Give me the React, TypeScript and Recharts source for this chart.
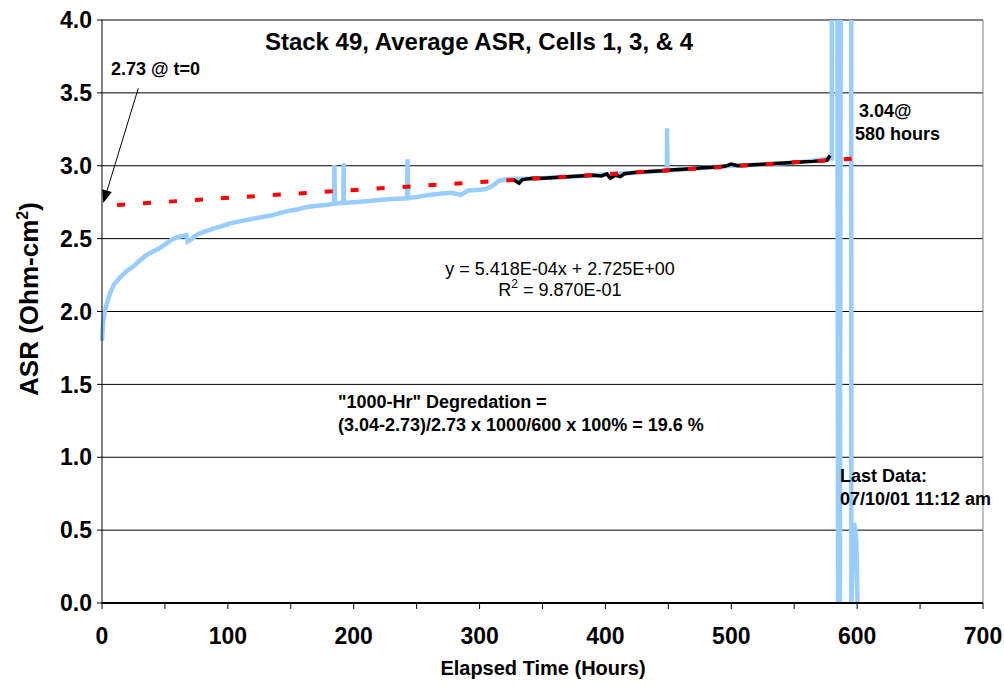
import React from 'react';
import { LineChart, Line, XAxis, YAxis, CartesianGrid, ReferenceLine } from 'recharts';

const blueHours = [
  0, 0.5, 1, 2, 4, 7, 10, 15, 20, 25, 30, 35, 40, 45, 50, 55, 60, 65, 67, 68, 70,
  76, 82, 89, 95, 102, 110, 116, 122, 129, 135, 141, 148, 155, 162, 170, 178,
  184.5, 184.7, 185, 191.8, 192, 192.3, 200, 210, 220, 230, 242.5, 242.8, 243.2,
  250, 260, 270, 278, 285, 291, 300, 305, 310, 315, 320, 326, 340, 360, 380, 400,
  420, 448.8, 449, 449.3, 470, 500, 530, 560, 578.5, 579.9, 579.9, 584.2, 584.9,
  585.6, 586.3, 587, 595.3, 595.4, 597.5, 598.5, 599.3, 600, 600.3,
];
const blueAsr = [
  1.8, 1.88, 1.93, 1.99, 2.06, 2.14, 2.19, 2.24, 2.28, 2.31, 2.35, 2.385, 2.41, 2.43, 2.46, 2.49, 2.51, 2.52, 2.525, 2.48, 2.49,
  2.53, 2.55, 2.57, 2.585, 2.605, 2.62, 2.63, 2.64, 2.65, 2.66, 2.675, 2.69, 2.7, 2.715, 2.725, 2.73,
  2.74, 3.005, 2.74, 2.745, 3.017, 2.745, 2.75, 2.757, 2.765, 2.772, 2.777, 3.045, 2.777,
  2.785, 2.8, 2.81, 2.815, 2.8, 2.83, 2.835, 2.84, 2.86, 2.895, 2.905, 2.91, 2.91, 2.92, 2.93, 2.94,
  2.95, 2.968, 3.257, 2.968, 2.98, 3.0, 3.01, 3.03, 3.05, 3.05, 4.5, 4.5, 0,
  4.5, 0, 4.5, 4.5, 0, 0.55, 0.5, 0.43, 0.16, 0,
];

// data used for the fit (black)
const blackHours = [
  327, 331.4, 334, 342, 350, 360, 370, 380, 390, 397, 401, 404, 408, 412, 415, 425,
  435, 445, 455, 465, 475, 485, 495, 500, 505, 515, 525, 535, 545, 555, 565, 572, 576, 578.5,
];
const blackAsr = [
  2.905, 2.88, 2.905, 2.914, 2.915, 2.92, 2.925, 2.93, 2.935, 2.93, 2.945, 2.914, 2.935, 2.925, 2.945, 2.955,
  2.96, 2.965, 2.972, 2.978, 2.984, 2.99, 2.996, 3.012, 3.0, 3.005, 3.01, 3.015, 3.02, 3.025, 3.03, 3.035, 3.038, 3.07,
];

// linear trend y = 5.418E-04x + 2.725
const trendHours = [12, 600];
const trendAsr = [2.7315, 3.0501];

const xTicks = [0, 50, 100, 150, 200, 250, 300, 350, 400, 450, 500, 550, 600, 650, 700];
const yTicks = [0, 0.5, 1, 1.5, 2, 2.5, 3, 3.5, 4];

const zip = (h: number[], v: number[]) => h.map((t, i) => ({ t, v: v[i] }));

const blueData = zip(blueHours, blueAsr);
const blackData = zip(blackHours, blackAsr);
const trendData = zip(trendHours, trendAsr);

const FONT = '"Liberation Sans", Arial, sans-serif';

const Arrow = (p: any) => {
  const { x1, y1, x2, y2 } = p;
  const ang = Math.atan2(y2 - y1, x2 - x1);
  const len = 13;
  const half = 5;
  const bx = x2 - len * Math.cos(ang);
  const by = y2 - len * Math.sin(ang);
  const nx = -Math.sin(ang) * half;
  const ny = Math.cos(ang) * half;
  return (
    <g>
      <line x1={x1} y1={y1} x2={bx} y2={by} stroke="#000" strokeWidth={1} />
      <polygon points={`${x2},${y2} ${bx + nx},${by + ny} ${bx - nx},${by - ny}`} fill="#000" />
    </g>
  );
};

export default function App() {
  const bold = { fontFamily: FONT, fontWeight: 700, fill: '#000' } as const;
  return (
    <div style={{ position: 'absolute', left: 0, top: 0, width: 1004, height: 687, background: '#fff' }}>
      <LineChart width={1004} height={687} margin={{ top: 20, right: 21, left: 0, bottom: 24 }}>
        <CartesianGrid horizontal vertical={false} stroke="#000" />
        <XAxis
          type="number"
          dataKey="t"
          domain={[0, 700]}
          ticks={xTicks}
          height={60}
          tickSize={6}
          tickMargin={19}
          tickFormatter={(v: number) => (v % 100 === 0 ? String(v) : '')}
          axisLine={{ stroke: '#000', strokeWidth: 2 }}
          tickLine={{ stroke: '#000' }}
          tick={{ fontSize: 23, fontWeight: 700, fill: '#000', fontFamily: FONT }}
        />
        <YAxis
          type="number"
          domain={[0, 4]}
          ticks={yTicks}
          allowDataOverflow
          width={102}
          tickSize={5}
          tickMargin={5}
          tickFormatter={(v: number) => v.toFixed(1)}
          axisLine={{ stroke: '#000' }}
          tickLine={{ stroke: '#000' }}
          tick={{ fontSize: 23, fontWeight: 700, fill: '#000', fontFamily: FONT }}
        />
        <ReferenceLine x={700} stroke="#808080" />
        <ReferenceLine y={4} stroke="#808080" />
        <Line data={blueData} dataKey="v" type="linear" stroke="#99CCFF" strokeWidth={4.5} dot={false} isAnimationActive={false} />
        <Line data={blackData} dataKey="v" type="linear" stroke="#000" strokeWidth={3.5} dot={false} isAnimationActive={false} />
        <Line data={trendData} dataKey="v" type="linear" stroke="#FF0000" strokeWidth={4} strokeDasharray="8 18" dot={false} isAnimationActive={false} />
        <ReferenceLine
          segment={[{ x: 28.8, y: 3.531 }, { x: 1.0, y: 2.744 }]}
          shape={Arrow}
        />
      </LineChart>
      <svg width={1004} height={687} style={{ position: 'absolute', left: 0, top: 0, pointerEvents: 'none' }}>
        <text x={479} y={50} textAnchor="middle" fontSize={24} {...bold}>Stack 49, Average ASR, Cells 1, 3, &amp; 4</text>
        <text x={111} y={75} fontSize={18} {...bold}>2.73 @ t=0</text>
        <text x={859} y={117} fontSize={18} {...bold}>3.04@</text>
        <text x={855} y={140} fontSize={18} {...bold}>580 hours</text>
        <text x={560} y={275} textAnchor="middle" fontSize={18} fontFamily={FONT} fill="#000">y = 5.418E-04x + 2.725E+00</text>
        <text x={560} y={296} textAnchor="middle" fontSize={18} fontFamily={FONT} fill="#000">
          R<tspan dy={-8} fontSize={12}>2</tspan><tspan dy={8}> = 9.870E-01</tspan>
        </text>
        <text x={338} y={408} fontSize={18} {...bold}>"1000-Hr" Degredation =</text>
        <text x={338} y={431} fontSize={18} {...bold}>(3.04-2.73)/2.73 x 1000/600 x 100% = 19.6 %</text>
        <text x={840} y={482} fontSize={18} {...bold}>Last Data:</text>
        <text x={840} y={505} fontSize={18} {...bold}>07/10/01 11:12 am</text>
        <text x={543} y={675} textAnchor="middle" fontSize={20} {...bold}>Elapsed Time (Hours)</text>
        <text x={38} y={299} textAnchor="middle" fontSize={26} transform="rotate(-90 38 299)" {...bold}>
          ASR (Ohm-cm<tspan dy={-10} fontSize={16}>2</tspan><tspan dy={10}>)</tspan>
        </text>
      </svg>
    </div>
  );
}
